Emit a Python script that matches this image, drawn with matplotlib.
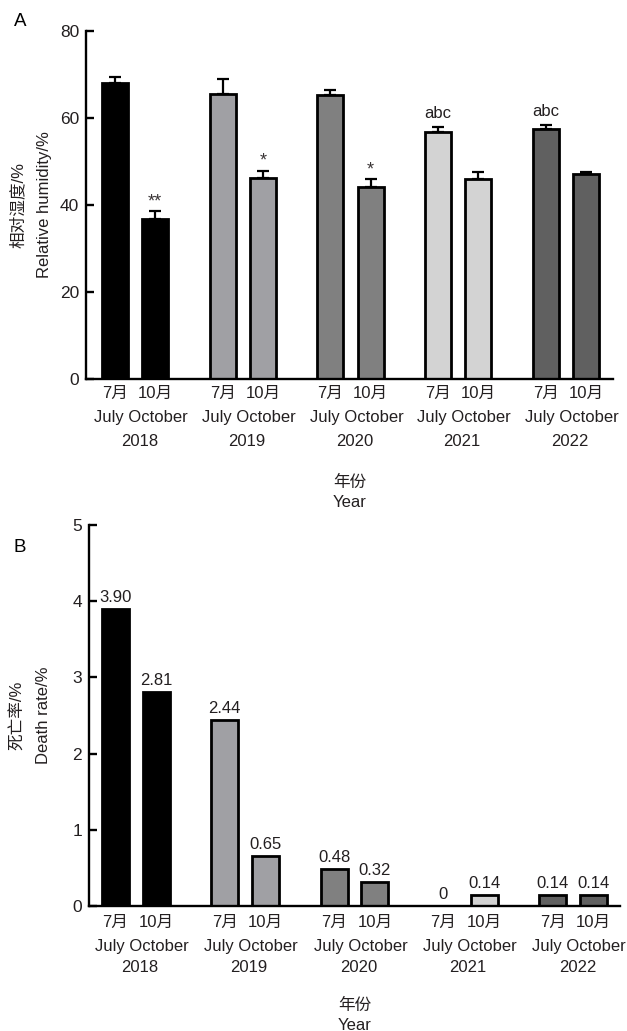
import matplotlib
matplotlib.use("Agg")
import matplotlib.pyplot as plt
import numpy as np

plt.rcParams['font.family'] = ['Liberation Sans', 'Noto Sans CJK SC', 'DejaVu Sans']
plt.rcParams['font.size'] = 12

# ---------------- data ----------------
years = ['2018', '2019', '2020', '2021', '2022']
months_cn = ['7月', '10月']
months_en = ['July', 'October']
year_colors = ['#000000', '#A0A0A4', '#808080', '#D3D3D3', '#606060']

humidity_july = [68.0, 65.5, 65.2, 56.8, 57.5]
humidity_oct = [36.8, 46.3, 44.1, 46.0, 47.1]
humidity_july_err = [1.4, 3.4, 1.2, 1.2, 0.8]
humidity_oct_err = [1.8, 1.6, 1.8, 1.5, 0.6]
humidity_july_sig = ['', '', '', 'abc', 'abc']
humidity_oct_sig = ['**', '*', '*', '', '']

death_july = [3.90, 2.44, 0.48, 0.0, 0.14]
death_oct = [2.81, 0.65, 0.32, 0.14, 0.14]
death_july_lbl = ['3.90', '2.44', '0.48', '0', '0.14']
death_oct_lbl = ['2.81', '0.65', '0.32', '0.14', '0.14']

TXT = '#231F20'
G = 2.68  # group spacing in bar units
idx = np.arange(len(years))
pos_july = idx * G
pos_oct = idx * G + 1
centers = idx * G + 0.5

W, H = 627, 1031
fig = plt.figure(figsize=(W / 100, H / 100), dpi=100)

def px_axes(l, r, t, b):
    return fig.add_axes([l / W, 1 - b / H, (r - l) / W, (b - t) / H])

axA = px_axes(86, 613, 31, 379)
axB = px_axes(89, 620, 525, 906)

def style(ax, ylim, yticks, xlim):
    ax.set_xlim(*xlim)
    ax.set_ylim(*ylim)
    ax.set_yticks(yticks)
    ax.set_xticks([])
    for s in ['top', 'right']:
        ax.spines[s].set_visible(False)
    for s in ['left', 'bottom']:
        ax.spines[s].set_linewidth(1.7)
        ax.spines[s].set_zorder(5)
    ax.tick_params(axis='y', direction='in', length=6, width=1.7,
                   labelsize=12.5, labelcolor=TXT, pad=5)

def xlabels(ax, rows_px, title_px):
    for g in idx:
        for p, m in zip([pos_july[g], pos_oct[g]], months_cn):
            ax.annotate(m, xy=(p, 0), xycoords=('data', 'axes fraction'),
                        xytext=(0, -rows_px[0]), textcoords='offset pixels',
                        ha='center', va='center', color=TXT, fontsize=12)
        ax.annotate(' '.join(months_en), xy=(centers[g] + 0.15, 0),
                    xycoords=('data', 'axes fraction'),
                    xytext=(0, -rows_px[1]), textcoords='offset pixels',
                    ha='center', va='center', color=TXT, fontsize=12)
        ax.annotate(years[g], xy=(centers[g] + 0.1, 0),
                    xycoords=('data', 'axes fraction'),
                    xytext=(0, -rows_px[2]), textcoords='offset pixels',
                    ha='center', va='center', color=TXT, fontsize=12)
    ax.annotate('年份', xy=(0.5, 0), xycoords='axes fraction',
                xytext=(0, -title_px[0]), textcoords='offset pixels',
                ha='center', va='center', color=TXT, fontsize=12)
    ax.annotate('Year', xy=(0.5, 0), xycoords='axes fraction',
                xytext=(0, -title_px[1]), textcoords='offset pixels',
                ha='center', va='center', color=TXT, fontsize=12)

def ylabels(ax, cn, en, x_cn_px, x_en_px, left_px, width_px):
    ax.text((x_cn_px - left_px) / width_px, 0.5, cn, transform=ax.transAxes,
            rotation=90, ha='center', va='center', color=TXT, fontsize=12)
    ax.text((x_en_px - left_px) / width_px, 0.5, en, transform=ax.transAxes,
            rotation=90, ha='center', va='center', color=TXT, fontsize=12)

# ---------------- Panel A ----------------
style(axA, (0, 80), [0, 20, 40, 60, 80], (-0.725, 4 * G + 1 + 0.675))
bw = 0.65
for vals, errs, pos, sigs in [(humidity_july, humidity_july_err, pos_july, humidity_july_sig),
                               (humidity_oct, humidity_oct_err, pos_oct, humidity_oct_sig)]:
    axA.bar(pos, vals, width=bw, color=year_colors, edgecolor='black',
            linewidth=2.0, zorder=3)
    axA.errorbar(pos, vals, yerr=[np.zeros(len(vals)), errs], fmt='none',
                 ecolor='black', elinewidth=1.6, capsize=4.5, capthick=1.6,
                 zorder=2)
    for p, v, e, s in zip(pos, vals, errs, sigs):
        if s:
            off = 6 if s == 'abc' else 1
            axA.annotate(s, xy=(p, v + e), xytext=(0, off),
                         textcoords='offset pixels', ha='center', va='bottom',
                         color='#3a3536' if '*' in s else TXT,
                         fontsize=13 if '*' in s else 12)

xlabels(axA, (14, 38, 62), (103, 123))
ylabels(axA, '相对湿度/%', 'Relative humidity/%', 18, 44, 86, 527)
fig.text(20 / W, 1 - 22 / H, 'A', ha='center', va='center', fontsize=13.5, color='black')

# ---------------- Panel B ----------------
style(axB, (0, 5), [0, 1, 2, 3, 4, 5], (-0.646, 4 * G + 1 + 0.646))
bwB = 0.66
for vals, pos, lbls in [(death_july, pos_july, death_july_lbl),
                        (death_oct, pos_oct, death_oct_lbl)]:
    edges = ['black' if v > 0 else 'none' for v in vals]
    axB.bar(pos, vals, width=bwB, color=year_colors, edgecolor=edges,
            linewidth=2.0, zorder=3)
    for p, v, l in zip(pos, vals, lbls):
        axB.annotate(l, xy=(p, v), xytext=(0, 4), textcoords='offset pixels',
                     ha='center', va='bottom', color=TXT, fontsize=12)

xlabels(axB, (16, 40, 62), (99, 119))
ylabels(axB, '死亡率/%', 'Death rate/%', 18, 44, 89, 531)
fig.text(20 / W, 1 - 548 / H, 'B', ha='center', va='center', fontsize=13.5, color='black')

fig.savefig('out.png', dpi=100)
